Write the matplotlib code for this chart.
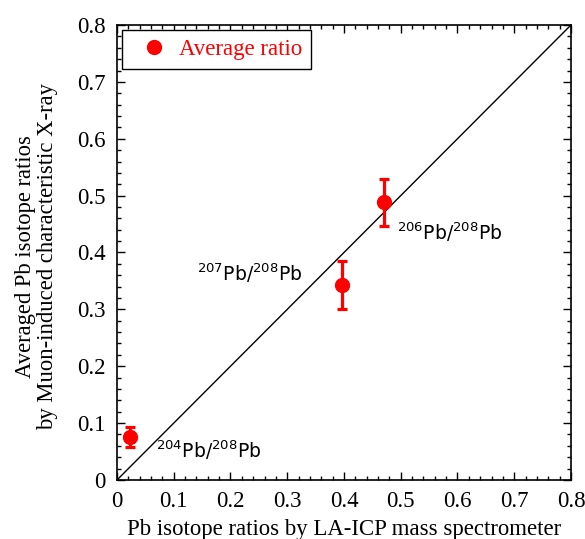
import numpy as np
import matplotlib
matplotlib.use('Agg')
import matplotlib.pyplot as plt
from matplotlib.ticker import MultipleLocator

plt.rcParams['font.family'] = 'Liberation Serif'
plt.rcParams['mathtext.fontset'] = 'dejavusans'

# datos
la_icp = [0.023, 0.396, 0.470]
muon = [0.076, 0.343, 0.488]
muon_err = [0.018, 0.042, 0.042]
etiquetas = [r'$^{204}$Pb/$^{208}$Pb', r'$^{207}$Pb/$^{208}$Pb', r'$^{206}$Pb/$^{208}$Pb']
pos_etiquetas = [(0.069, 0.053), (0.141, 0.364), (0.494, 0.436)]

fig = plt.figure(figsize=(5.85, 5.39), dpi=100)
ax = fig.add_axes([0.2, 0.1095, 0.776, 0.8441])

# linea 1:1
ax.plot([0, 0.8], [0, 0.8], color='black', lw=1.0)

ax.errorbar(la_icp, muon, yerr=muon_err, fmt='o', color='red', ms=10,
            elinewidth=2.3, capsize=3.6, capthick=2.3, zorder=3)

for txt, (x, y) in zip(etiquetas, pos_etiquetas):
    ax.text(x, y, txt, fontsize=13.5, family='DejaVu Sans', va='center', ha='left')

ax.set_xlim(0, 0.8)
ax.set_ylim(0, 0.8)
ax.xaxis.set_major_locator(MultipleLocator(0.1))
ax.yaxis.set_major_locator(MultipleLocator(0.1))
ax.xaxis.set_minor_locator(MultipleLocator(0.02))
ax.yaxis.set_minor_locator(MultipleLocator(0.02))
fmt = plt.FuncFormatter(lambda v, p: '0' if abs(v) < 1e-9 else f'{v:.1f}')
ax.xaxis.set_major_formatter(fmt)
ax.yaxis.set_major_formatter(fmt)
ax.tick_params(which='both', direction='in', top=True, right=True, labelsize=16.5, width=1.0)
ax.tick_params(which='major', length=5.8, pad=8)
ax.tick_params(which='minor', length=3)
for s in ax.spines.values():
    s.set_linewidth(1.2)

ax.set_xlabel('Pb isotope ratios by LA-ICP mass spectrometer', fontsize=16.4)
ax.xaxis.set_label_coords(0.5, -0.086)
ax.set_ylabel('Averaged Pb isotope ratios\nby Muon-induced characteristic X-ray', fontsize=16.3,
              linespacing=1.02)
ax.yaxis.set_label_coords(-0.131, 0.492)

leg = ax.legend(handles=[ax.containers[0].lines[0]], labels=['Average ratio'], loc='upper left',
                fontsize=16.5, fancybox=False, edgecolor='black', framealpha=1,
                borderaxespad=0.2, handlelength=2.0, handletextpad=0.1, borderpad=0.4)
leg.get_frame().set_linewidth(1.0)
for t in leg.get_texts():
    t.set_color('red')

fig.savefig('out.png', dpi=100)
